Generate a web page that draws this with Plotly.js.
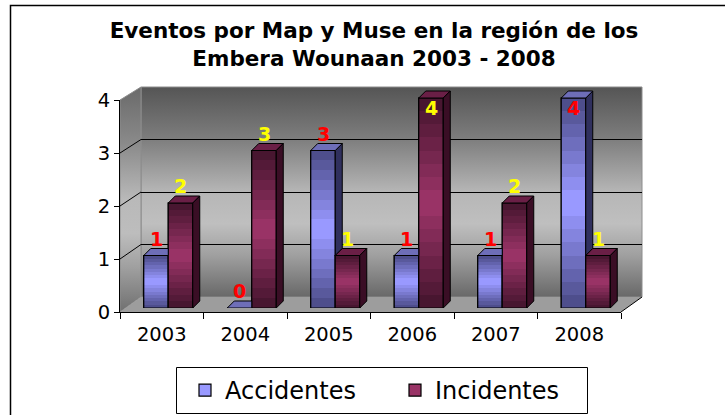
<!DOCTYPE html>
<html><head><meta charset="utf-8">
<script src="https://cdn.plot.ly/plotly-3.0.1.min.js"></script>
<style>html,body{margin:0;padding:0;background:#fff}#chart{width:725px;height:415px}</style>
</head><body><div id="chart"></div>
<script>
// ---- data ----
const years = ['2003','2004','2005','2006','2007','2008'];
const accidentes = [1, 0, 3, 1, 1, 4];
const incidentes = [2, 3, 1, 4, 2, 1];
const yTickVals = [0, 1, 2, 3, 4];
const seriesNames = ['Accidentes', 'Incidentes'];
const chartTitle = 'Eventos por Map y Muse en la región de los<br>Embera Wounaan 2003 - 2008';

// ---- geometry (pixels) ----
const W = 725, H = 415;
const fx = p => p / W;
const fy = p => 1 - p / H;
const front = {x0: 120, x1: 621, y0: 312, y1: 100};
const back = {x0: 141, x1: 642, y0: 297, y1: 87};
const barPx = {x0: 126.5, x1: 627.5, y0: 308, perUnit: 52.5};
const yMax = 4, barYMax = 4.4;
const nCat = years.length;
const catPx = (barPx.x1 - barPx.x0) / nCat;
const barW = 24.5 / catPx;
const dX = 7 / catPx, dY = 7 / barPx.perUnit;
const idx = years.map((_, i) => i);

const series = [
  {name: seriesNames[0], vals: accidentes, off: -barW, dark: [78, 78, 140], light: [153, 153, 255],
   top: '#6e6eb8', side: '#30305e', label: '#ff0000'},
  {name: seriesNames[1], vals: incidentes, off: 0, dark: [72, 22, 48], light: [153, 51, 102],
   top: '#6a1f46', side: '#3a0e25', label: '#ffff00'}
];

function mix(a, b, t) {
  return 'rgb(' + a.map((v, j) => Math.round(v + (b[j] - v) * t)).join(',') + ')';
}

// ---- traces ----
const traces = [];
// carriers for the back-wall grid subplot and the front axes subplot (draw nothing)
traces.push({type: 'scatter', mode: 'none', x: idx, y: incidentes, xaxis: 'x', yaxis: 'y',
  showlegend: false, hoverinfo: 'skip'});
const NB = 8;
series.forEach(s => {
  traces.push({type: 'bar', name: s.name, x: idx, y: s.vals, xaxis: 'x2', yaxis: 'y2',
    offset: s.off, width: barW, marker: {color: mix(s.light, s.light, 0), line: {color: '#000', width: 1.2}},
    hoverinfo: 'skip'});
  for (let i = 0; i < NB; i++) {
    const k = 0.5 * i / NB;
    traces.push({type: 'bar', x: idx, y: s.vals.map(v => v * (1 - 2 * k)), base: s.vals.map(v => v * k),
      xaxis: 'x2', yaxis: 'y2', offset: s.off, width: barW, showlegend: false, hoverinfo: 'skip',
      marker: {color: mix(s.dark, s.light, i / (NB - 1)), line: {width: 0}}});
  }
  traces.push({type: 'bar', x: idx, y: s.vals, xaxis: 'x2', yaxis: 'y2', offset: s.off, width: barW,
    showlegend: false, hoverinfo: 'skip',
    marker: {color: 'rgba(0,0,0,0)', line: {color: '#000', width: 1.2}}});
});
traces.push({type: 'scatter', mode: 'none', x: idx, y: accidentes, xaxis: 'x3', yaxis: 'y3',
  showlegend: false, hoverinfo: 'skip'});

// ---- 3D faces as shapes (from data values) ----
const shapes = [];
function poly(pts, fill) {
  return {type: 'path', xref: 'x2', yref: 'y2', layer: 'above',
    path: 'M' + pts.map(p => p[0] + ',' + p[1]).join('L') + 'Z',
    fillcolor: fill, line: {color: '#000', width: 1}};
}
idx.forEach(i => {
  const vA = accidentes[i], vI = incidentes[i];
  const a = series[0], b = series[1];
  const xlA = i + a.off, xrA = xlA + barW;
  const xlB = i + b.off, xrB = xlB + barW;
  if (vA > vI) {
    shapes.push(poly([[xrA, vI], [xrA + dX, vI + dY], [xrA + dX, vA + dY], [xrA, vA]], a.side));
    shapes.push(poly([[xlA, vA], [xlA + dX, vA + dY], [xrA + dX, vA + dY], [xrA, vA]], a.top));
  } else {
    shapes.push(poly([[xlA, vA], [xlA + dX, vA + dY], [xrA, vA + dY], [xrA, vA]], a.top));
  }
  shapes.push(poly([[xlB, vI], [xlB + dX, vI + dY], [xrB + dX, vI + dY], [xrB, vI]], b.top));
  shapes.push(poly([[xrB, 0], [xrB + dX, dY], [xrB + dX, vI + dY], [xrB, vI]], b.side));
});

// side-wall diagonal gridlines (paper coords from the two axis scales)
const frontY = v => fy(front.y0 + (front.y1 - front.y0) * v / yMax);
const backY = v => fy(back.y0 + (back.y1 - back.y0) * v / yMax);
yTickVals.filter(v => v > 0 && v < yMax).forEach(v => {
  shapes.push({type: 'line', xref: 'paper', yref: 'paper', x0: fx(front.x0), x1: fx(back.x0),
    y0: frontY(v), y1: backY(v), line: {color: '#000', width: 1}, layer: 'above'});
});
// floor right edge
shapes.push({type: 'line', xref: 'paper', yref: 'paper', x0: fx(front.x1), x1: fx(back.x1),
  y0: fy(front.y0), y1: fy(back.y0), line: {color: '#000', width: 1}});
// outer chart border
shapes.push({type: 'rect', xref: 'paper', yref: 'paper', x0: fx(10.5), x1: fx(740), y0: fy(5.5), y1: fy(430),
  line: {color: '#000', width: 1.5}, fillcolor: 'rgba(0,0,0,0)'});
// legend frame
shapes.push({type: 'rect', xref: 'paper', yref: 'paper', x0: fx(176.5), x1: fx(587.5), y0: fy(367.5), y1: fy(413.5),
  line: {color: '#000', width: 1}, fillcolor: 'rgba(0,0,0,0)'});

// ---- walls & floor as an SVG gradient image ----
const ox = front.x0, oy = back.y1 - 1;
const iw = back.x1 - front.x0 + 1, ih = front.y0 - oy + 1;
const P = (x, y) => (x - ox) + ',' + (y - oy);
const svg = `<svg xmlns="http://www.w3.org/2000/svg" width="${iw}" height="${ih}" viewBox="0 0 ${iw} ${ih}" preserveAspectRatio="none">
<defs>
<linearGradient id="gw" x1="0" y1="0" x2="0" y2="1">
<stop offset="0" stop-color="#555555"/><stop offset="0.25" stop-color="#7e7e7e"/>
<stop offset="0.5" stop-color="#b6b6b6"/><stop offset="0.65" stop-color="#bfbfbf"/>
<stop offset="0.8" stop-color="#a0a0a0"/><stop offset="1" stop-color="#686868"/></linearGradient>
<linearGradient id="gs" x1="0" y1="0" x2="0" y2="1">
<stop offset="0" stop-color="#6a6a6a"/><stop offset="0.25" stop-color="#8a8a8a"/>
<stop offset="0.5" stop-color="#b9b9b9"/><stop offset="0.65" stop-color="#bdbdbd"/>
<stop offset="0.8" stop-color="#a0a0a0"/><stop offset="1" stop-color="#707070"/></linearGradient>
</defs>
<polygon points="${P(back.x0, back.y1)} ${P(back.x1, back.y1)} ${P(back.x1, back.y0)} ${P(back.x0, back.y0)}" fill="url(#gw)" stroke="#8c8c8c" stroke-width="1"/>
<polygon points="${P(front.x0, front.y1)} ${P(back.x0, back.y1)} ${P(back.x0, back.y0)} ${P(front.x0, front.y0)}" fill="url(#gs)" stroke="#8c8c8c" stroke-width="1"/>
<polygon points="${P(front.x0, front.y0)} ${P(front.x1, front.y0)} ${P(back.x1, back.y0)} ${P(back.x0, back.y0)}" fill="#9d9d9d"/>
</svg>`;
const images = [{source: 'data:image/svg+xml;charset=utf-8,' + encodeURIComponent(svg),
  xref: 'paper', yref: 'paper', x: fx(ox), y: fy(oy), sizex: iw / W, sizey: ih / H,
  xanchor: 'left', yanchor: 'top', sizing: 'stretch', layer: 'below'}];

// ---- value labels ----
const annotations = [];
series.forEach(s => {
  s.vals.forEach((v, i) => {
    annotations.push({xref: 'x2', yref: 'y2', x: i + s.off + barW / 2, y: Math.min(v + 0.32, 3.8),
      text: String(v), showarrow: false, yanchor: 'middle', xanchor: 'center',
      font: {family: 'DejaVu Sans', size: 19, color: s.label, weight: 'bold'}});
  });
});

const tickFont = {family: 'DejaVu Sans', size: 19.5, color: '#000'};
const layout = {
  width: W, height: H, margin: {l: 0, r: 0, t: 0, b: 0, pad: 0, autoexpand: false},
  paper_bgcolor: '#fff', plot_bgcolor: 'rgba(0,0,0,0)',
  barmode: 'overlay', bargap: 0, hovermode: false,
  title: {text: chartTitle, x: fx(374), xanchor: 'center', xref: 'paper', y: 1 - 38 / H, yanchor: 'top', yref: 'container',
    font: {family: 'DejaVu Sans', size: 21.5, color: '#000', weight: 'bold'}},
  // back wall (gridlines)
  xaxis: {domain: [fx(back.x0), fx(back.x1)], range: [-0.5, nCat - 0.5], anchor: 'y', visible: false, fixedrange: true},
  yaxis: {domain: [fy(back.y0), fy(back.y1)], range: [0, yMax], anchor: 'x', tickmode: 'array',
    tickvals: yTickVals.filter(v => v > 0 && v < yMax), showgrid: true, gridcolor: '#000', gridwidth: 1,
    showticklabels: false, ticks: '', showline: false, zeroline: false, fixedrange: true},
  // bars
  xaxis2: {domain: [fx(barPx.x0), fx(barPx.x1)], range: [-0.5, nCat - 0.5], anchor: 'y2', visible: false, fixedrange: true},
  yaxis2: {domain: [fy(barPx.y0), fy(barPx.y0 - barPx.perUnit * barYMax)], range: [0, barYMax], anchor: 'x2',
    visible: false, fixedrange: true},
  // front axes with labels
  xaxis3: {domain: [fx(front.x0), fx(front.x1)], range: [-0.5, nCat - 0.5], anchor: 'y3',
    tickmode: 'array', tickvals: idx, ticktext: years, ticks: '', showgrid: false, zeroline: false,
    showline: true, linecolor: '#000', linewidth: 1, tickfont: tickFont, ticklabelstandoff: 5,
    minor: {tickmode: 'array', tickvals: idx.map(i => i - 0.5).concat([nCat - 0.5]), ticks: 'outside',
      ticklen: 6, tickcolor: '#000', tickwidth: 1, showgrid: false}, fixedrange: true},
  yaxis3: {domain: [fy(front.y0), fy(front.y1)], range: [0, yMax], anchor: 'x3', tickmode: 'array',
    tickvals: yTickVals, ticks: 'outside', ticklen: 5, tickcolor: '#000', showgrid: false, zeroline: false,
    showline: true, linecolor: '#000', linewidth: 1, tickfont: tickFont, fixedrange: true},
  showlegend: true,
  legend: {orientation: 'h', x: fx(185), xanchor: 'left', y: fy(368), yanchor: 'top', xref: 'paper', yref: 'paper',
    borderwidth: 0, bgcolor: 'rgba(0,0,0,0)', itemwidth: 30,
    entrywidth: 165, entrywidthmode: 'pixels', traceorder: 'normal',
    font: {family: 'DejaVu Sans', size: 24, color: '#000'}},
  shapes: shapes, images: images, annotations: annotations
};

Plotly.newPlot('chart', traces, layout, {staticPlot: true, displayModeBar: false});
</script></body></html>
